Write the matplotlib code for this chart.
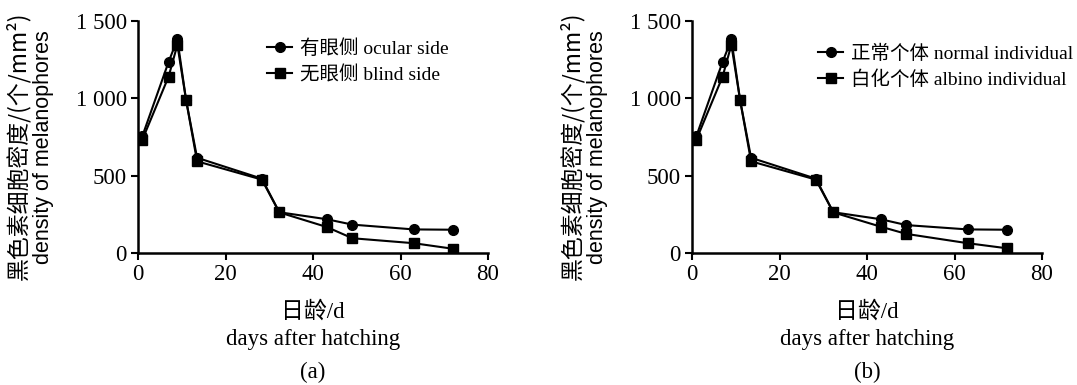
import matplotlib.pyplot as plt

plt.rcParams['font.family'] = ['Liberation Serif', 'Noto Sans CJK SC']

# days after hatching
days_a = [1, 7, 9, 11, 13.5, 28.3, 32.3, 43.1, 49, 63, 72]
ocular = [755, 1235, 1380, 986, 615, 480, 263, 218, 183, 152, 150]
blind = [732, 1140, 1345, 986, 592, 474, 262, 168, 95, 63, 27]

days_b = [1, 7, 9, 11, 13.5, 28.3, 32.3, 43.1, 49, 63, 72]
normal = [755, 1235, 1380, 986, 615, 480, 263, 218, 180, 152, 150]
albino = [732, 1140, 1345, 986, 592, 474, 262, 170, 123, 63, 30]

labels_a = ['有眼侧 ocular side', '无眼侧 blind side']
labels_b = ['正常个体 normal individual', '白化个体 albino individual']

yticks = [0, 500, 1000, 1500]
ytick_labels = ['0', '500', '1 000', '1 500']
xticks = [0, 20, 40, 60, 80]

fig = plt.figure(figsize=(10.77, 3.85), dpi=100)


def panel(left, xs, s1, s2, labels, tag, leg_xy):
    ax = fig.add_axes([left, 0.343, 0.325, 0.603])
    ax.plot(xs, s1, color='black', lw=1.5, marker='o', ms=7, label=labels[0])
    ax.plot(xs, s2, color='black', lw=1.5, marker='s', ms=7, label=labels[1])
    ax.set_xlim(0, 80)
    ax.set_ylim(0, 1500)
    ax.set_xticks(xticks)
    ax.set_yticks(yticks)
    ax.set_yticklabels(ytick_labels)
    ax.tick_params(direction='out', length=5, width=1.5, labelsize=16.5, pad=3)
    for s in ['top', 'right']:
        ax.spines[s].set_visible(False)
    for s in ['left', 'bottom']:
        ax.spines[s].set_linewidth(1.8)
    ax.legend(loc='upper left', bbox_to_anchor=leg_xy, frameon=False,
              fontsize=14, handlelength=1.3, handletextpad=0.4,
              labelspacing=0.4, borderaxespad=0)
    cx = left + 0.1625
    fig.text(cx, 1 - 312 / 385, '日龄/d', ha='center', va='center', fontsize=16.5)
    fig.text(cx, 1 - 340 / 385, 'days after hatching', ha='center', va='center', fontsize=16.5)
    fig.text(cx, 1 - 372 / 385, tag, ha='center', va='center', fontsize=16.5)
    yl = left * 1077
    fig.text((yl - 120) / 1077, 1 - 146 / 385, '黑色素细胞密度/(个/mm²)', rotation=90,
             ha='center', va='center', fontsize=16.5,
             family=['Noto Sans CJK SC', 'DejaVu Sans'])
    fig.text((yl - 94) / 1077, 1 - 147 / 385, 'density of melanophores', rotation=90,
             ha='center', va='center', fontsize=15.5,
             family=['Liberation Sans'])
    return ax


panel(138 / 1077, days_a, ocular, blind, labels_a, '(a)', (0.346, 0.953))
panel(692 / 1077, days_b, normal, albino, labels_b, '(b)', (0.338, 0.931))

fig.savefig('out.png', dpi=100)
